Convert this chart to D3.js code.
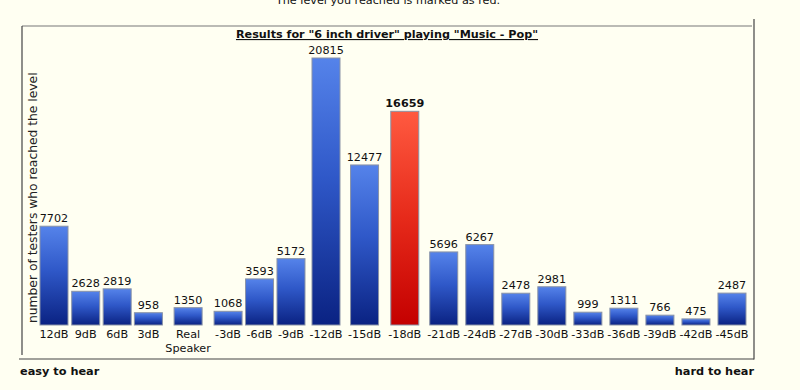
<!DOCTYPE html>
<html>
<head>
<meta charset="utf-8">
<script src="https://cdn.jsdelivr.net/npm/d3@7"></script>
<style>
  html, body { margin: 0; padding: 0; background: #fffff2; }
  svg { display: block; font-family: "DejaVu Sans", Verdana, sans-serif; }
</style>
</head>
<body>
<svg id="chart" width="800" height="390"></svg>
<script>
// levels, from easy to hard
const categories = ["12dB", "9dB", "6dB", "3dB", "Real Speaker", "-3dB", "-6dB", "-9dB", "-12dB", "-15dB",
    "-18dB", "-21dB", "-24dB", "-27dB", "-30dB", "-33dB", "-36dB", "-39dB", "-42dB", "-45dB"];
const testers = [7702, 2628, 2819, 958, 1350, 1068, 3593, 5172, 20815, 12477,
    16659, 5696, 6267, 2478, 2981, 999, 1311, 766, 475, 2487];
const reachedLevel = "-18dB";

const data = categories.map((c, i) => ({ key: c, value: testers[i], reached: c === reachedLevel }));

const svg = d3.select("#chart");
const barWidth = 28;
const colPad = 3;
const fontSize = "11.2px";

// gradients
const defs = svg.append("defs");
const blue = defs.append("linearGradient").attr("id", "gBlue").attr("x1", 0).attr("y1", 0).attr("x2", 0).attr("y2", 1);
blue.append("stop").attr("offset", "0%").attr("stop-color", "#5583ea");
blue.append("stop").attr("offset", "45%").attr("stop-color", "#2f58c8");
blue.append("stop").attr("offset", "100%").attr("stop-color", "#0a2282");
const red = defs.append("linearGradient").attr("id", "gRed").attr("x1", 0).attr("y1", 0).attr("x2", 0).attr("y2", 1);
red.append("stop").attr("offset", "0%").attr("stop-color", "#ff5a40");
red.append("stop").attr("offset", "50%").attr("stop-color", "#e62a1a");
red.append("stop").attr("offset", "100%").attr("stop-color", "#c40000");

// columns are sized like table cells: widest of bar, value and label text
function textWidth(str, weight) {
    const t = svg.append("text").style("font-size", fontSize).style("font-weight", weight).text(str);
    const w = t.node().getComputedTextLength();
    t.remove();
    return w;
}
const widths = data.map(d => {
    const lab = d3.max(d.key.split(" "), s => textWidth(s, "normal"));
    const val = textWidth(String(d.value), d.reached ? "bold" : "normal");
    return Math.max(barWidth, lab, val) + colPad;
});
const edges = [0];
widths.forEach(w => edges.push(edges[edges.length - 1] + w));

const x = d3.scaleLinear().domain([0, edges[edges.length - 1]]).range([38, 750]);
const cx = (d, i) => x(edges[i] + widths[i] / 2);

const y = d3.scaleLinear().domain([0, 20815]).range([325, 58]);

// page text above the frame (cut off in the screenshot)
svg.append("text")
    .attr("x", 388).attr("y", 4)
    .attr("text-anchor", "middle")
    .style("font-size", fontSize)
    .attr("fill", "#111")
    .text("The level you reached is marked as red.");

// frame
svg.append("line").attr("x1", 22).attr("x2", 752).attr("y1", 26).attr("y2", 26)
    .attr("stroke", "#a4a4a0").attr("stroke-width", 1.5);
svg.append("line").attr("x1", 22).attr("x2", 22).attr("y1", 26).attr("y2", 355)
    .attr("stroke", "#444").attr("stroke-width", 1.2);
svg.append("line").attr("x1", 754).attr("x2", 754).attr("y1", 19).attr("y2", 359.5)
    .attr("stroke", "#444").attr("stroke-width", 1.2);
svg.append("line").attr("x1", 19).attr("x2", 754).attr("y1", 359).attr("y2", 359)
    .attr("stroke", "#444").attr("stroke-width", 1.2);

// title
svg.append("text")
    .attr("x", 387).attr("y", 38)
    .attr("text-anchor", "middle")
    .style("font-size", "11.2px")
    .style("font-weight", "bold")
    .style("text-decoration", "underline")
    .attr("fill", "#111")
    .text('Results for "6 inch driver" playing "Music - Pop"');

// y axis title
svg.append("text")
    .attr("transform", "translate(36.5,323) rotate(-90)")
    .style("font-size", "12.3px")
    .attr("fill", "#222")
    .text("number of testers who reached the level");

// bars
const bars = svg.append("g");
bars.selectAll("rect")
    .data(data)
    .join("rect")
    .attr("x", (d, i) => cx(d, i) - barWidth / 2)
    .attr("y", d => y(d.value))
    .attr("width", barWidth)
    .attr("height", d => y(0) - y(d.value))
    .attr("fill", d => d.reached ? "url(#gRed)" : "url(#gBlue)")
    .attr("stroke", "#8a93a6")
    .attr("stroke-width", 1);

// value labels
bars.selectAll("text.value")
    .data(data)
    .join("text")
    .attr("class", "value")
    .attr("x", (d, i) => cx(d, i))
    .attr("y", d => y(d.value) - 4)
    .attr("text-anchor", "middle")
    .style("font-size", fontSize)
    .style("font-weight", d => d.reached ? "bold" : "normal")
    .attr("fill", "#111")
    .text(d => d.value);

// category labels (may wrap on two lines)
const cats = bars.selectAll("text.cat")
    .data(data)
    .join("text")
    .attr("class", "cat")
    .attr("x", (d, i) => cx(d, i))
    .attr("y", 338)
    .attr("text-anchor", "middle")
    .style("font-size", fontSize)
    .attr("fill", "#111");
cats.each(function(d, i) {
    const t = d3.select(this);
    d.key.split(" ").forEach((s, j) => {
        t.append("tspan").attr("x", cx(d, i)).attr("dy", j ? 14 : 0).text(s);
    });
});

// ends
svg.append("text").attr("x", 20).attr("y", 375)
    .style("font-size", "11.3px").style("font-weight", "bold").attr("fill", "#111")
    .text("easy to hear");
svg.append("text").attr("x", 754).attr("y", 375).attr("text-anchor", "end")
    .style("font-size", "11.3px").style("font-weight", "bold").attr("fill", "#111")
    .text("hard to hear");
</script>
</body>
</html>
